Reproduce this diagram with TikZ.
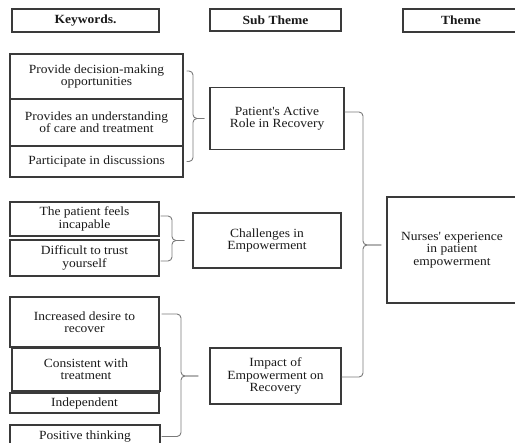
\documentclass[tikz,border=0pt]{standalone}
\usepackage{fontspec}
\setmainfont{Liberation Serif}[FakeStretch=1.08]
\definecolor{boxline}{HTML}{3A3A3A}
\definecolor{braceline}{HTML}{7A7A7A}
\definecolor{inktext}{HTML}{1A1A1A}
\begin{document}
\begin{tikzpicture}[x=1pt,y=-1pt,
  box/.style={draw=boxline, line width=1.2pt, inner sep=2pt, align=center,
              text=inktext, font=\fontsize{12.5}{12.4}\selectfont},
  head/.style={box, font=\fontsize{12.5}{12.4}\selectfont\bfseries},
  brace/.style={draw=braceline, line width=0.9pt, rounded corners=4pt}]
\useasboundingbox (0,0) rectangle (515,443);

% column headings
\node[head, minimum width=147pt, minimum height=23pt] (hk) at (85.5,20.5) {Keywords.};
\node[head, minimum width=131pt, minimum height=22pt] (hs) at (275.5,20) {Sub Theme};
\node[head, minimum width=116pt, minimum height=23pt] (ht) at (461,20.5) {Theme};

% keywords, first group
\node[box, minimum width=173pt, minimum height=45pt] (k1) at (96.5,76.5) {Provide decision-making\\opportunities};
\node[box, minimum width=173pt, minimum height=47pt] (k2) at (96.5,122.5) {Provides an understanding\\of care and treatment};
\node[box, minimum width=173pt, minimum height=31pt] (k3) at (96.5,161.5) {Participate in discussions};

% keywords, second group
\node[box, minimum width=149pt, minimum height=34pt] (k4) at (84.5,219) {The patient feels\\incapable};
\node[box, minimum width=149pt, minimum height=36pt] (k5) at (84.5,258) {Difficult to trust\\yourself};

% keywords, third group
\node[box, minimum width=149pt, minimum height=50pt] (k6) at (84.5,322) {Increased desire to\\recover};
\node[box, minimum width=148pt, minimum height=43pt] (k7) at (86,369.5) {Consistent with\\treatment};
\node[box, minimum width=149pt, minimum height=20pt] (k8) at (84.5,403) {Independent};
\node[box, minimum width=150pt, minimum height=23pt] (k9) at (85,436.5) {Positive thinking};

% sub themes
\node[box, minimum width=134pt, minimum height=62pt] (pa) at (277,118.5) {Patient\textquotesingle s Active\\Role in Recovery};
\node[box, minimum width=148pt, minimum height=55pt] (ch) at (267,240.5) {Challenges in\\Empowerment};
\node[box, minimum width=131pt, minimum height=56pt] (im) at (275.5,376) {Impact of\\Empowerment on\\Recovery};

% theme
\node[box, minimum width=130pt, minimum height=106pt] (th) at (452,250) {Nurses\textquotesingle\ experience\\in patient\\empowerment};

% brace spines
\coordinate (s1) at (193,118.5);
\coordinate (s2) at (172,240.5);
\coordinate (s3) at (181,376);
\coordinate (s4) at (363,245);

% braces joining keywords to sub themes
\draw[brace] ([xshift=3pt,yshift=5.5pt]k1.east) -| (s1) -- ([xshift=-5pt]pa.west);
\draw[brace] ([xshift=3pt]k3.east) -| (s1) -- ([xshift=-5pt]pa.west);

\draw[brace] ([xshift=1pt,yshift=3pt]k4.east) -| (s2) -- ([xshift=-8pt]ch.west);
\draw[brace] ([xshift=1pt,yshift=-3pt]k5.east) -| (s2) -- ([xshift=-8pt]ch.west);

\draw[brace] ([xshift=2pt,yshift=8pt]k6.east) -| (s3) -- ([xshift=-11pt]im.west);
\draw[brace] ([xshift=1pt]k9.east) -| (s3) -- ([xshift=-11pt]im.west);

% brace joining sub themes to the theme
\draw[brace] ([yshift=6.5pt]pa.east) -| (s4) -- ([xshift=-5pt,yshift=5pt]th.west);
\draw[brace] ([yshift=-1pt]im.east) -| (s4) -- ([xshift=-5pt,yshift=5pt]th.west);
\end{tikzpicture}
\end{document}
